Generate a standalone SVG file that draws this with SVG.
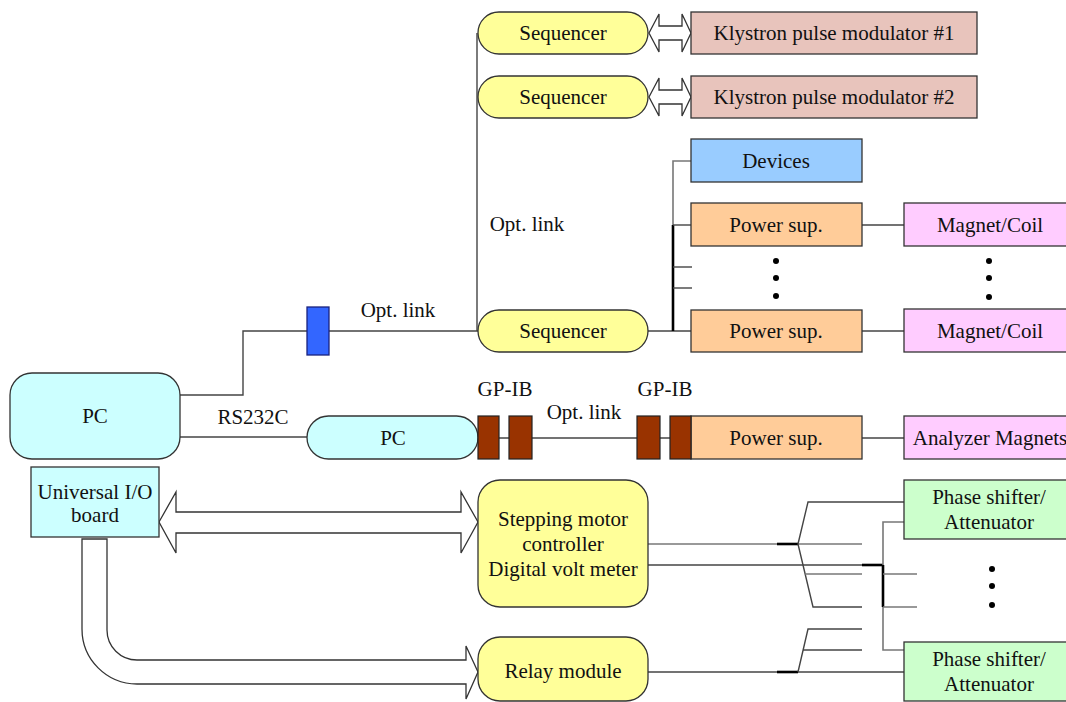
<svg xmlns="http://www.w3.org/2000/svg" width="1066" height="702" viewBox="0 0 1066 702">
<style>
.b{stroke:#333;stroke-width:1.3}
.seq{fill:#FFFF99}
.kly{fill:#E8C4BC}
.dev{fill:#99CCFF}
.ps{fill:#FFCC99}
.mag{fill:#FFCCFF}
.ph{fill:#CCFFCC}
.pc{fill:#CCFFFF}
.gp{fill:#993300;stroke:#222;stroke-width:1.2}
.ln{stroke:#444;stroke-width:1.4;fill:none}
.lg{stroke:#777;stroke-width:1.6;fill:none}
.tk{stroke:#000;stroke-width:2.6;fill:none}
.ar{fill:#fff;stroke:#333;stroke-width:1.3}
.dot{fill:#000}
</style>
<g id="connectors">
<line class="ln" x1="477" y1="33" x2="477" y2="331"/>
<polyline class="ln" points="180,395 243,395 243,331 478,331"/>
<line class="ln" x1="180" y1="437" x2="307" y2="437"/>
<line class="ln" x1="478" y1="438" x2="691" y2="438"/>
<line class="ln" x1="648" y1="331" x2="691" y2="331"/>
<polyline class="lg" points="691,161 673,161 673,225"/>
<line class="tk" x1="673" y1="225" x2="673" y2="331"/>
<line class="ln" x1="673" y1="225" x2="691" y2="225"/>
<line class="ln" x1="673" y1="267" x2="692" y2="267"/>
<line class="ln" x1="673" y1="288" x2="692" y2="288"/>
<line class="ln" x1="862" y1="225" x2="904" y2="225"/>
<line class="ln" x1="862" y1="331" x2="904" y2="331"/>
<line class="ln" x1="862" y1="438" x2="904" y2="438"/>
<polygon class="ar" points="649,33 659,14 659,26 682,26 682,14 691,33 682,52 682,40 659,40 659,52"/>
<polygon class="ar" points="649,97 659,78 659,90 682,90 682,78 691,97 682,116 682,104 659,104 659,116"/>
<polygon class="ar" points="159,522 176,492 176,512 461,512 461,492 478,522 461,553 461,533 176,533 176,553"/>
<path class="ar" d="M82,539 L107,539 L107,630 A30,30 0 0 0 137,660 L466,660 L466,646 L478,672 L466,699 L466,684 L137,684 A55,55 0 0 1 82,629 Z"/>
<line class="lg" x1="648" y1="544" x2="862" y2="544"/>
<line class="tk" x1="777" y1="544" x2="798" y2="544"/>
<polyline class="ln" points="798,544 808,502 904,502"/>
<polyline class="ln" points="798,544 813,607 862,607"/>
<line class="lg" x1="805" y1="574" x2="862" y2="574"/>
<line class="ln" x1="648" y1="565" x2="862" y2="565"/>
<line class="tk" x1="862" y1="565" x2="883" y2="565"/>
<polyline class="lg" points="904,522 883,522 883,650 904,650"/>
<line class="tk" x1="883" y1="565" x2="883" y2="607"/>
<line class="lg" x1="883" y1="574" x2="917" y2="574"/>
<line class="lg" x1="883" y1="607" x2="917" y2="607"/>
<line class="ln" x1="648" y1="672" x2="904" y2="672"/>
<line class="tk" x1="777" y1="672" x2="798" y2="672"/>
<polyline class="ln" points="798,672 808,629 862,629"/>
<line class="ln" x1="803" y1="650" x2="862" y2="650"/>
</g>
<g font-family="Liberation Serif, DejaVu Serif, serif" font-size="21" fill="#111" text-anchor="middle">
<g id="seq1"><rect class="seq b" x="478" y="12" width="170" height="42" rx="21"/><text x="563" y="40">Sequencer</text></g>
<g id="seq2"><rect class="seq b" x="478" y="76" width="170" height="42" rx="21"/><text x="563" y="104">Sequencer</text></g>
<g id="seq3"><rect class="seq b" x="478" y="310" width="170" height="42" rx="21"/><text x="563" y="338">Sequencer</text></g>
<g id="kly1"><rect class="kly b" x="691" y="12" width="286" height="42"/><text x="834" y="40">Klystron pulse modulator #1</text></g>
<g id="kly2"><rect class="kly b" x="691" y="76" width="286" height="42"/><text x="834" y="104">Klystron pulse modulator #2</text></g>
<g id="devices"><rect class="dev b" x="691" y="139" width="171" height="43"/><text x="776" y="168">Devices</text></g>
<g id="ps1"><rect class="ps b" x="691" y="203" width="171" height="43"/><text x="776" y="232">Power sup.</text></g>
<g id="ps2"><rect class="ps b" x="691" y="310" width="171" height="42"/><text x="776" y="338">Power sup.</text></g>
<g id="ps3"><rect class="ps b" x="691" y="416" width="171" height="43"/><text x="776" y="445">Power sup.</text></g>
<g id="dots1"><circle class="dot" cx="776" cy="261" r="3"/><circle class="dot" cx="776" cy="278" r="3"/><circle class="dot" cx="776" cy="296" r="3"/></g>
<g id="mag1"><rect class="mag b" x="904" y="203" width="172" height="43"/><text x="990" y="232">Magnet/Coil</text></g>
<g id="mag2"><rect class="mag b" x="904" y="309" width="172" height="43"/><text x="990" y="338">Magnet/Coil</text></g>
<g id="dots2"><circle class="dot" cx="989" cy="261" r="3"/><circle class="dot" cx="989" cy="278" r="3"/><circle class="dot" cx="989" cy="297" r="3"/></g>
<g id="analyzer"><rect class="mag b" x="904" y="416" width="172" height="43"/><text x="990" y="445">Analyzer Magnets</text></g>
<g id="optconn"><rect x="307" y="307" width="22" height="48" fill="#3366FF" stroke="#1a237e" stroke-width="1.3"/></g>
<g id="pcmain"><rect class="pc b" x="10" y="373" width="170" height="86" rx="22"/><text x="95" y="423">PC</text></g>
<g id="pc2"><rect class="pc b" x="307" y="416" width="171" height="43" rx="21.5"/><text x="393" y="445">PC</text></g>
<g id="gpib"><rect class="gp" x="478" y="416" width="21" height="43"/><rect class="gp" x="509" y="416" width="23" height="43"/><rect class="gp" x="637" y="416" width="23" height="43"/><rect class="gp" x="670" y="416" width="21" height="43"/></g>
<g id="uio"><rect class="pc b" x="31" y="467" width="128" height="70"/><text x="95" y="499">Universal I/O</text><text x="95" y="522">board</text></g>
<g id="stepper"><rect class="seq b" x="478" y="480" width="170" height="127" rx="22"/><text x="563" y="526">Stepping motor</text><text x="563" y="551">controller</text><text x="563" y="576">Digital volt meter</text></g>
<g id="relay"><rect class="seq b" x="478" y="637" width="170" height="64" rx="22"/><text x="563" y="678">Relay module</text></g>
<g id="phase1"><rect class="ph b" x="904" y="480" width="172" height="59"/><text x="989" y="504">Phase shifter/</text><text x="989" y="529">Attenuator</text></g>
<g id="phase2"><rect class="ph b" x="904" y="642" width="172" height="59"/><text x="989" y="666">Phase shifter/</text><text x="989" y="691">Attenuator</text></g>
<g id="dots3"><circle class="dot" cx="992" cy="569" r="3"/><circle class="dot" cx="992" cy="586" r="3"/><circle class="dot" cx="992" cy="605" r="3"/></g>
<g id="labels">
<text x="398" y="317">Opt. link</text>
<text x="527" y="231">Opt. link</text>
<text x="253" y="424">RS232C</text>
<text x="505" y="396">GP-IB</text>
<text x="665" y="396">GP-IB</text>
<text x="584" y="419">Opt. link</text>
</g>
</g>
</svg>
